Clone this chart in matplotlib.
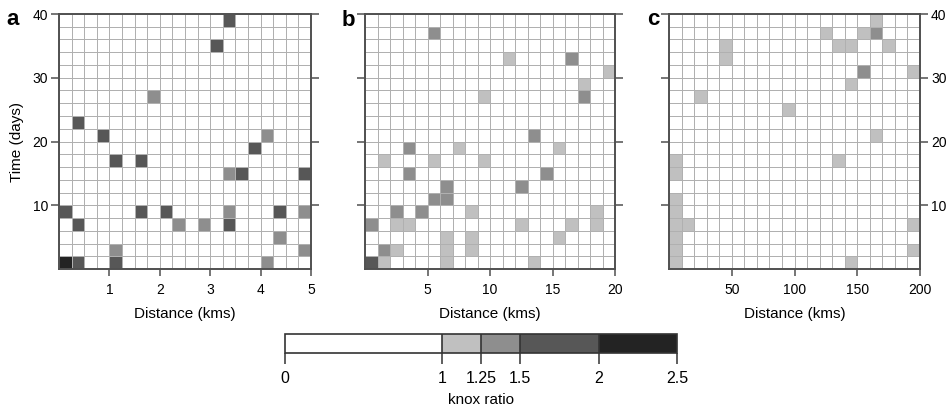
import numpy as np
import matplotlib
matplotlib.use('Agg')
import matplotlib.pyplot as plt
from matplotlib.colors import ListedColormap, BoundaryNorm
from matplotlib.cm import ScalarMappable

plt.rcParams['font.family'] = ['Liberation Sans', 'DejaVu Sans']

# ---------------- data ----------------
panel_letters = ['a', 'b', 'c']
max_distance = [5, 20, 200]          # km
x_tick_values = [[1, 2, 3, 4, 5], [5, 10, 15, 20], [50, 100, 150, 200]]
y_tick_values = [10, 20, 30, 40]
max_time = 40                          # days
n_bins = 20

knox_bounds = [0, 1, 1.25, 1.5, 2, 2.5]
knox_tick_labels = ['0', '1', '1.25', '1.5', '2', '2.5']
knox_colors = ['#ffffff', '#c0c0c0', '#8e8e8e', '#575757', '#232323']
# knox ratio (class of each cell): '.' <1, '1' 1-1.25,
# '2' 1.25-1.5, '3' 1.5-2, '4' 2-2.5
class_ratio = {'.': 0.5, '1': 1.125, '2': 1.375, '3': 1.75, '4': 2.25}

# rows listed from the top (38-40 days) down to the bottom (0-2 days)
knox_a = [
    ".............3......",
    "....................",
    "............3.......",
    "....................",
    "....................",
    "....................",
    ".......2............",
    "....................",
    ".3..................",
    "...3............2...",
    "...............3....",
    "....3.3.............",
    ".............23....3",
    "....................",
    "....................",
    "3.....3.3....2...3.2",
    ".3.......2.2.3......",
    ".................2..",
    "....2..............2",
    "43..3...........2...",
]
knox_b = [
    "....................",
    ".....2..............",
    "....................",
    "...........1....2...",
    "...................1",
    ".................1..",
    ".........1.......2..",
    "....................",
    "....................",
    ".............2......",
    "...2...1.......1....",
    ".1...1...1..........",
    "...2..........2.....",
    "......2.....2.......",
    ".....22.............",
    "..2.2...1.........1.",
    "2.11........1...1.1.",
    "......1.1......1....",
    ".21...1.1...........",
    "31....1......1......",
]
knox_c = [
    "................1...",
    "............1..12...",
    "....1........11..1..",
    "....1...............",
    "...............2...1",
    "..............1.....",
    "..1.................",
    ".........1..........",
    "....................",
    "................1...",
    "....................",
    "1............1......",
    "1...................",
    "....................",
    "1...................",
    "1...................",
    "11.................1",
    "1...................",
    "1..................1",
    "1.............1.....",
]
panel_grids = [knox_a, knox_b, knox_c]

# ---------------- layout ----------------
W, H = 952, 411
fig = plt.figure(figsize=(W / 100, H / 100), dpi=100)


def rect(x0, x1, y0, y1):
    return [x0 / W, 1 - y1 / H, (x1 - x0) / W, (y1 - y0) / H]


panel_px = [(59, 311, 14, 269), (365, 615, 14, 269), (669, 920, 14, 269)]
letter_px = [(6, 25), (342, 26), (647, 25)]

cmap = ListedColormap(knox_colors)
norm = BoundaryNorm(knox_bounds, cmap.N)
spine_col = '#505050'
grid_col = '#b0b0b0'

for i in range(3):
    ax = fig.add_axes(rect(*panel_px[i]))
    vals = np.array([[class_ratio[c] for c in row] for row in panel_grids[i][::-1]])
    xe = np.linspace(0, max_distance[i], n_bins + 1)
    ye = np.linspace(0, max_time, n_bins + 1)
    ax.pcolormesh(xe, ye, vals, cmap=cmap, norm=norm,
                  edgecolors=grid_col, linewidth=0.7)
    ax.set_xlim(0, max_distance[i])
    ax.set_ylim(0, max_time)
    ax.set_xticks(x_tick_values[i])
    ax.set_yticks(y_tick_values)
    for s in ax.spines.values():
        s.set_color(spine_col)
        s.set_linewidth(1.4)
    ax.tick_params(axis='x', direction='out', length=5, width=1.1,
                   color=spine_col, labelsize=10, pad=5)
    ax.tick_params(axis='y', direction='out', length=6, width=1.1,
                   color=spine_col, labelsize=10, left=True, right=True,
                   labelleft=(i == 0), labelright=(i == 2), pad=2)
    ax.set_xlabel('Distance (kms)', fontsize=11, labelpad=7)
    if i == 0:
        ax.set_ylabel('Time (days)', fontsize=11, labelpad=6)
    fig.text(letter_px[i][0] / W, 1 - letter_px[i][1] / H, panel_letters[i],
             fontsize=16, fontweight='bold', va='baseline', ha='left')

# ---------------- colour bar ----------------
cax = fig.add_axes(rect(285, 677, 334, 353))
sm = ScalarMappable(norm=norm, cmap=cmap)
cbar = fig.colorbar(sm, cax=cax, orientation='horizontal',
                    spacing='proportional', ticks=knox_bounds, drawedges=True)
cbar.set_ticklabels(knox_tick_labels)
cbar.outline.set_edgecolor('#333333')
cbar.outline.set_linewidth(1.2)
cbar.dividers.set_color('#333333')
cbar.dividers.set_linewidth(1.2)
cax.tick_params(length=8, width=1.1, color='#333333', labelsize=11.5, pad=5)
cbar.set_label('knox ratio', fontsize=11, labelpad=5)

fig.savefig('out.png', dpi=100)
